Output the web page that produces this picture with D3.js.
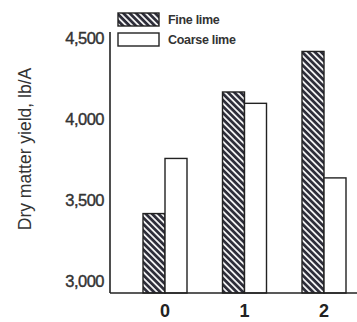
<!DOCTYPE html>
<html><head><meta charset="utf-8">
<script src="https://cdn.jsdelivr.net/npm/d3@7"></script>
<style>
html,body{margin:0;padding:0;background:#fff;}
svg{display:block;}
</style></head>
<body>
<script>
const categories = ["0", "1", "2"];
const seriesNames = ["Fine lime", "Coarse lime"];
const fineLime = [3420, 4170, 4420];
const coarseLime = [3760, 4100, 3640];
const yTicks = [3000, 3500, 4000, 4500];
const yTitle = "Dry matter yield, lb/A";

const W = 357, H = 322;
const svg = d3.select("body").append("svg").attr("width", W).attr("height", H);

const defs = svg.append("defs");
const pat = defs.append("pattern").attr("id", "hatch").attr("patternUnits", "userSpaceOnUse")
  .attr("width", 4.5).attr("height", 4.5).attr("patternTransform", "rotate(45)");
pat.append("rect").attr("width", 4.5).attr("height", 4.5).attr("fill", "#2e2e3a");
pat.append("rect").attr("x", 0).attr("y", 0).attr("width", 4.5).attr("height", 1.8).attr("fill", "#f0f0f0");

const x0 = 110, baseY = 293;
const y = d3.scaleLinear().domain([2930, 4540]).range([baseY, 32]);
const x = d3.scalePoint().domain(categories).range([165, 324]);
const barW = 22;
const xSub = d3.scaleBand().domain(seriesNames).range([-barW, barW]);

const data = categories.map((c, i) => ({c, vals: [fineLime[i], coarseLime[i]]}));
const g = svg.append("g");
data.forEach(d => {
  d.vals.forEach((v, j) => {
    g.append("rect")
      .attr("x", x(d.c) + xSub(seriesNames[j]))
      .attr("y", y(v))
      .attr("width", xSub.bandwidth())
      .attr("height", baseY - y(v))
      .attr("fill", j === 0 ? "url(#hatch)" : "#fff")
      .attr("stroke", "#222")
      .attr("stroke-width", 1.4);
  });
});

// axes
svg.append("line").attr("x1", x0).attr("x2", x0).attr("y1", 32).attr("y2", baseY)
  .attr("stroke", "#222").attr("stroke-width", 1.6);
svg.append("line").attr("x1", x0).attr("x2", W).attr("y1", baseY).attr("y2", baseY)
  .attr("stroke", "#222").attr("stroke-width", 1.6);

// y tick labels
svg.append("g").selectAll("text").data(yTicks).join("text")
  .attr("x", 104).attr("y", d => y(d)).attr("dy", "0.35em")
  .attr("text-anchor", "end")
  .attr("font-family", "Liberation Sans, Arial, sans-serif")
  .attr("font-size", 16.5).attr("fill", "#333").attr("stroke", "#333").attr("stroke-width", 0.4)
  .attr("letter-spacing", -0.5)
  .text(d => d3.format(",")(d));

// x tick labels
svg.append("g").selectAll("text").data(categories).join("text")
  .attr("x", d => x(d)).attr("y", 317)
  .attr("text-anchor", "middle")
  .attr("font-family", "Liberation Sans, Arial, sans-serif")
  .attr("font-weight", "bold")
  .attr("font-size", 18).attr("fill", "#222")
  .text(d => d);

// y title
svg.append("text")
  .attr("transform", "translate(31,149) rotate(-90)")
  .attr("text-anchor", "middle")
  .attr("font-family", "Liberation Sans, Arial, sans-serif")
  .attr("font-size", 17.5).attr("fill", "#333")
  .text(yTitle);

// legend
const leg = svg.append("g");
seriesNames.forEach((s, j) => {
  const ly = j === 0 ? 13 : 33;
  leg.append("rect").attr("x", 118).attr("y", ly).attr("width", 41).attr("height", 13)
    .attr("fill", j === 0 ? "url(#hatch)" : "#fff").attr("stroke", "#222").attr("stroke-width", 1.4);
  leg.append("text").attr("x", 168).attr("y", ly + 6.5).attr("dy", "0.35em")
    .attr("font-family", "Liberation Sans, Arial, sans-serif")
    .attr("font-size", 12.5).attr("font-weight", "bold").attr("fill", "#333")
    .attr("letter-spacing", -0.3)
    .text(s);
});
</script>
</body></html>
